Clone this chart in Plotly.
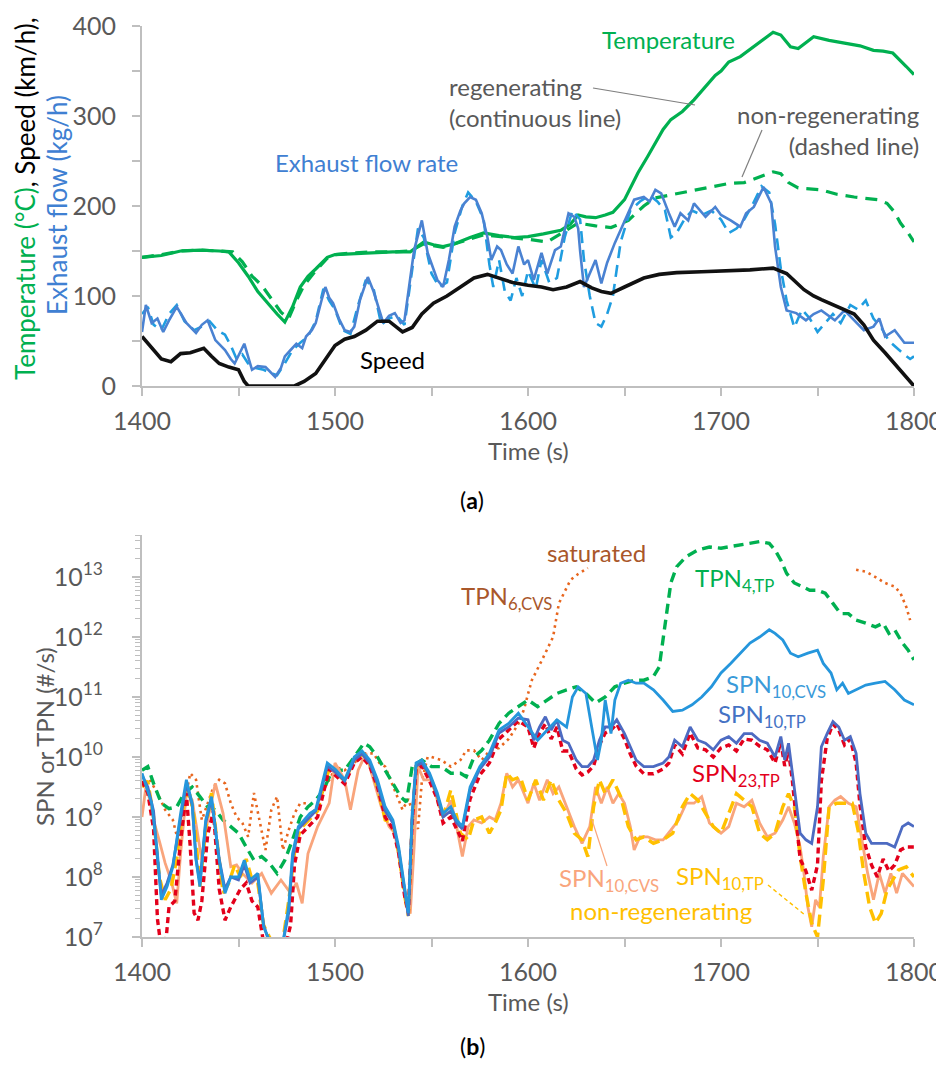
import plotly.graph_objects as go

# ---------------- (a) top panel data ----------------
t_temp_reg = [1400,1410,1420,1430,1440,1445,1450,1455,1460,1465,1470,1474,1478,1482,1486,1490,1496,1500,1510,1520,1530,1539,1546,1551,1556,1562,1570,1577,1585,1593,1600,1608,1617,1622,1626,1630,1635,1640,1644,1650,1657,1662,1666,1670,1674,1680,1686,1692,1697,1700,1704,1710,1717,1722,1727,1731,1736,1740,1744,1748,1756,1765,1772,1779,1784,1789,1793,1796,1800]
temp_reg = [143,145,150,151,150,149,137,122,105,92,80,71,88,110,122,130,143,146,147,148,149,149,160,157,155,158,165,170,167,165,166,169,173,180,190,188,187,190,193,207,237,255,270,285,296,305,318,333,345,350,360,366,377,385,393,390,377,375,382,388,384,381,378,373,372,370,362,355,346]

t_temp_non = [1400,1410,1420,1430,1440,1447,1452,1457,1462,1467,1472,1476,1480,1484,1490,1496,1500,1510,1520,1530,1539,1546,1556,1565,1577,1590,1600,1610,1618,1626,1635,1643,1652,1660,1666,1678,1695,1704,1712,1720,1727,1731,1735,1740,1752,1760,1769,1781,1786,1790,1793,1797,1800]
temp_non = [143,146,150,151,150,149,138,122,112,97,82,75,95,112,128,142,146,148,149,149,150,158,154,160,168,165,163,160,170,181,178,176,184,200,209,214,221,225,226,232,238,236,226,220,218,213,210,207,203,193,181,170,160]

t_speed = [1400,1405,1410,1415,1420,1425,1432,1436,1440,1445,1450,1453,1455,1479,1484,1490,1495,1500,1505,1510,1516,1522,1528,1535,1540,1545,1551,1558,1565,1572,1579,1585,1592,1600,1607,1613,1620,1627,1633,1638,1643,1650,1660,1668,1677,1690,1703,1715,1727,1734,1743,1748,1752,1764,1769,1774,1779,1785,1790,1795,1800]
speed = [55,42,30,27,36,37,42,33,25,21,18,5,0,0,5,14,30,45,52,55,62,72,72,60,65,80,92,100,110,120,124,120,115,112,110,107,110,116,109,105,103,110,120,124,126,127,128,129,131,125,107,100,96,84,80,68,51,37,25,13,0]

t_exh_reg = [1400,1402,1405,1408,1411,1414,1418,1423,1428,1431,1434,1438,1443,1446,1448,1451,1453,1457,1460,1464,1467,1469,1472,1474,1477,1480,1483,1485,1488,1490,1493,1495,1497,1499,1502,1505,1508,1510,1513,1517,1520,1522,1525,1528,1531,1534,1536,1539,1541,1545,1548,1551,1553,1556,1559,1562,1565,1567,1570,1573,1576,1579,1581,1584,1586,1589,1592,1595,1598,1600,1603,1607,1610,1614,1617,1621,1624,1626,1627,1629,1632,1635,1638,1641,1645,1650,1655,1660,1663,1666,1669,1673,1676,1679,1683,1686,1689,1692,1697,1700,1705,1710,1713,1717,1722,1726,1728,1731,1734,1739,1744,1748,1752,1756,1759,1764,1769,1774,1779,1782,1785,1790,1795,1800]
exh_reg = [60,90,70,75,60,73,88,70,59,68,73,51,40,30,25,38,47,18,22,21,15,10,20,33,40,47,42,55,62,70,95,110,98,92,75,62,60,66,96,121,105,92,70,78,81,70,73,120,151,184,148,130,118,110,140,177,195,203,210,207,192,165,140,155,151,135,125,155,135,140,118,148,125,151,155,192,188,175,150,110,125,140,114,137,159,184,207,210,205,218,214,192,177,192,184,203,195,188,199,190,184,177,192,199,221,203,155,110,84,81,73,80,84,78,73,84,73,62,66,75,55,62,48,48]

t_exh_non = [1400,1403,1406,1410,1414,1418,1422,1427,1431,1435,1439,1443,1446,1449,1452,1455,1459,1463,1467,1470,1474,1478,1482,1486,1490,1494,1497,1500,1504,1508,1512,1516,1520,1524,1528,1532,1536,1539,1543,1546,1550,1554,1558,1562,1566,1569,1573,1577,1580,1582,1585,1588,1591,1594,1597,1600,1604,1607,1611,1615,1619,1623,1627,1629,1632,1635,1638,1641,1644,1648,1653,1658,1663,1667,1671,1674,1677,1681,1685,1690,1695,1700,1704,1708,1712,1716,1721,1725,1728,1731,1734,1738,1742,1746,1750,1754,1758,1762,1767,1771,1775,1779,1783,1787,1791,1795,1798,1800]
exh_non = [80,88,68,62,80,90,72,62,66,72,62,57,45,30,35,25,20,18,14,12,25,40,48,55,72,108,95,85,62,58,90,118,108,68,75,78,68,115,175,165,125,110,115,170,200,215,205,185,135,110,140,105,95,120,100,128,108,140,115,120,165,195,185,140,100,70,66,80,100,160,195,205,212,205,195,165,170,185,195,190,195,185,170,175,185,200,222,215,180,130,95,65,85,75,60,70,80,70,90,85,95,75,65,50,42,35,30,33]

# ---------------- (b) bottom panel data (log10 of #/s) ----------------
t_spn10cvs_reg = [1400,1403,1405,1408,1410,1413,1416,1420,1423,1426,1428,1430,1433,1436,1440,1443,1446,1450,1453,1456,1460,1463,1466,1470,1473,1476,1478,1481,1484,1487,1490,1493,1496,1500,1505,1510,1514,1518,1522,1526,1530,1533,1536,1538,1540,1542,1545,1549,1553,1556,1560,1563,1566,1570,1575,1580,1585,1590,1595,1600,1605,1610,1615,1620,1623,1626,1630,1633,1636,1638,1640,1643,1645,1648,1652,1656,1660,1665,1670,1675,1680,1685,1690,1695,1700,1705,1710,1715,1720,1725,1728,1732,1736,1740,1745,1750,1753,1757,1760,1763,1766,1770,1775,1780,1785,1790,1795,1800]
spn10cvs_reg_log = [9.73,9.45,9.23,8.39,7.62,7.84,8.17,9.06,9.62,9.23,8.28,7.84,8.95,9.34,8.28,7.73,8.0,8.0,8.28,7.95,8.06,7.17,6.95,6.8,6.9,7.5,8.39,8.84,8.95,9.06,9.12,9.5,9.9,9.8,9.62,10.0,10.1,9.95,9.62,9.17,8.95,8.5,7.84,7.4,9.06,9.9,9.95,9.73,9.4,9.06,9.17,8.95,8.84,9.5,9.84,10.06,10.45,10.56,10.73,10.5,10.28,10.45,10.62,10.5,11.0,11.17,11.06,10.5,9.95,10.28,10.95,10.39,10.95,11.23,11.28,11.23,11.23,11.12,10.95,10.76,10.78,10.87,11.0,11.17,11.4,11.56,11.73,11.9,12.0,12.12,12.06,11.95,11.73,11.67,11.73,11.78,11.56,11.4,11.12,11.23,11.06,11.12,11.2,11.23,11.26,11.12,10.95,10.87]

t_spn10tp_reg = [1400,1403,1406,1408,1410,1413,1416,1420,1423,1426,1428,1430,1433,1436,1440,1443,1446,1450,1453,1456,1460,1463,1466,1470,1473,1476,1478,1481,1484,1487,1490,1493,1496,1500,1505,1510,1514,1518,1522,1526,1530,1533,1536,1538,1540,1542,1545,1549,1553,1556,1560,1563,1566,1570,1575,1580,1585,1590,1595,1600,1603,1606,1609,1612,1615,1618,1621,1625,1628,1631,1634,1637,1640,1643,1646,1650,1653,1656,1660,1665,1670,1673,1676,1680,1684,1688,1692,1696,1700,1704,1708,1712,1716,1720,1724,1728,1731,1733,1735,1737,1739,1741,1744,1747,1750,1752,1755,1758,1761,1764,1767,1770,1772,1775,1778,1782,1786,1790,1794,1797,1800]
spn10tp_reg_log = [9.7,9.5,9.1,8.3,7.7,7.9,8.2,9.0,9.55,9.2,8.3,7.9,8.9,9.3,8.3,7.8,8.0,7.95,8.2,7.9,8.0,7.2,6.9,6.8,6.9,7.4,8.3,8.8,8.9,9.0,9.1,9.45,9.85,9.75,9.6,9.95,10.05,9.9,9.55,9.1,8.9,8.45,7.8,7.35,9.0,9.85,9.9,9.7,9.35,9.0,9.1,8.9,8.8,9.45,9.8,10.0,10.4,10.5,10.65,10.62,10.28,10.5,10.67,10.45,10.62,10.28,10.23,9.95,9.84,9.84,9.95,10.28,10.5,10.5,10.62,10.39,10.17,9.95,9.84,9.84,9.9,10.0,10.28,10.17,10.5,10.28,10.23,10.12,10.28,10.34,10.23,10.39,10.39,10.28,10.23,10.0,10.34,9.95,10.23,9.73,9.17,8.73,8.62,8.56,9.17,10.17,10.39,10.59,10.5,10.28,10.34,10.06,9.39,8.73,8.56,8.56,8.56,8.5,8.84,8.9,8.84]

t_spn23tp_reg = [1400,1403,1406,1408,1410,1412,1414,1417,1420,1423,1425,1427,1429,1431,1434,1437,1440,1443,1446,1448,1451,1454,1457,1460,1463,1466,1474,1477,1479,1482,1485,1488,1491,1494,1497,1500,1505,1510,1514,1518,1522,1526,1530,1533,1536,1538,1540,1542,1545,1549,1553,1556,1560,1563,1566,1570,1575,1580,1585,1590,1595,1600,1603,1606,1609,1612,1615,1618,1621,1625,1628,1631,1634,1637,1640,1643,1646,1650,1653,1656,1660,1665,1670,1673,1676,1680,1684,1688,1692,1696,1700,1704,1708,1712,1716,1720,1724,1728,1731,1733,1735,1737,1739,1741,1744,1747,1750,1752,1755,1758,1761,1764,1767,1770,1772,1775,1778,1781,1784,1787,1790,1793,1796,1800]
spn23tp_reg_log = [9.6,9.4,8.8,7.3,6.8,6.8,7.5,7.6,8.6,9.4,8.5,7.4,7.28,7.6,8.7,9.1,7.8,7.28,7.5,7.62,7.8,7.9,7.6,7.5,6.9,6.8,6.8,7.2,8.2,8.7,8.8,8.9,9.0,9.4,9.8,9.7,9.55,9.9,10.0,9.85,9.5,9.0,8.8,8.4,7.7,7.4,8.9,9.8,9.85,9.6,9.3,8.9,9.0,8.8,8.6,9.3,9.7,9.9,10.3,10.45,10.6,10.5,10.15,10.4,10.55,10.3,10.5,10.1,10.1,9.8,9.7,9.75,9.85,10.2,10.4,10.45,10.55,10.3,10.05,9.85,9.72,9.72,9.8,9.9,10.2,10.05,10.4,10.15,10.12,10.0,10.15,10.2,10.1,10.3,10.28,10.18,10.12,9.9,10.25,9.85,10.1,9.6,8.9,8.3,8.1,7.78,8.2,9.6,10.3,10.55,10.45,10.2,10.3,9.9,9.2,8.5,8.2,8.0,8.3,8.1,8.2,8.45,8.5,8.5]

t_spn10cvs_non = [1400,1402,1404,1406,1409,1412,1415,1418,1420,1423,1426,1428,1431,1434,1438,1442,1446,1449,1452,1457,1462,1467,1472,1477,1480,1483,1486,1491,1497,1500,1505,1508,1512,1516,1520,1524,1528,1531,1534,1537,1539,1541,1543,1546,1550,1554,1557,1560,1563,1566,1569,1572,1576,1580,1583,1586,1589,1592,1595,1598,1600,1603,1606,1610,1613,1616,1620,1624,1628,1632,1635,1638,1641,1644,1647,1650,1653,1655,1658,1662,1666,1670,1674,1678,1682,1686,1690,1694,1698,1700,1704,1708,1712,1716,1720,1724,1728,1732,1735,1738,1741,1743,1745,1747,1749,1751,1753,1756,1759,1762,1766,1770,1773,1776,1779,1782,1785,1788,1791,1794,1797,1800]
spn10cvs_non_log = [9.0,9.5,9.3,8.95,8.6,8.23,7.95,7.56,8.39,9.4,9.28,8.9,8.28,8.95,9.56,9.06,8.17,8.2,8.06,7.9,8.06,7.73,7.95,7.73,7.9,7.56,8.39,8.84,9.23,9.9,9.62,9.12,9.78,10.06,9.62,9.17,8.84,8.73,8.17,7.62,7.39,8.5,9.84,9.62,9.62,9.17,9.06,9.28,8.84,8.34,8.84,8.95,8.9,9.0,8.95,9.23,9.73,9.5,9.62,9.39,9.23,9.56,9.28,9.62,9.39,9.5,9.17,8.84,8.56,8.84,9.5,9.23,9.5,9.23,9.39,9.23,8.84,8.45,8.67,8.67,8.62,8.62,8.78,8.95,9.23,9.23,9.34,8.9,8.78,8.73,8.84,9.23,9.17,9.28,8.9,8.67,8.73,8.95,9.17,8.9,8.5,8.06,7.5,7.17,7.62,7.5,8.34,9.17,9.28,9.34,9.23,9.17,8.62,8.06,7.62,8.06,7.73,8.06,7.73,8.06,7.95,7.84]

t_spn10tp_non = [1400,1403,1406,1409,1412,1415,1418,1421,1424,1427,1430,1433,1436,1439,1442,1445,1448,1451,1454,1457,1460,1463,1466,1470,1473,1476,1479,1482,1485,1488,1491,1494,1497,1500,1505,1510,1514,1518,1522,1526,1530,1533,1536,1538,1540,1542,1545,1549,1553,1556,1560,1565,1569,1572,1576,1580,1583,1586,1589,1592,1596,1600,1604,1608,1612,1616,1620,1624,1628,1631,1634,1637,1640,1644,1648,1652,1656,1660,1665,1670,1675,1680,1684,1688,1692,1696,1700,1704,1708,1712,1716,1720,1724,1728,1732,1735,1738,1741,1744,1747,1750,1753,1756,1760,1764,1768,1771,1774,1777,1780,1783,1786,1789,1792,1796,1800]
spn10tp_non_log = [9.5,9.6,9.0,8.0,7.62,7.8,8.3,9.1,9.5,9.0,7.84,8.8,9.4,8.6,7.73,7.9,8.2,8.0,8.3,7.95,7.9,7.2,7.0,6.8,6.95,7.6,8.4,8.8,8.9,9.0,9.1,9.5,9.8,9.75,9.6,9.95,10.05,9.9,9.5,8.95,8.9,8.4,7.7,7.35,8.9,9.85,9.9,9.7,9.35,9.0,9.45,8.73,8.62,8.95,9.0,8.73,8.9,9.12,9.73,9.62,9.67,9.28,9.62,9.28,9.62,9.28,9.06,8.73,8.62,8.34,9.17,9.62,9.39,9.62,9.34,8.84,8.62,8.67,8.56,8.62,8.73,9.17,9.39,9.28,9.06,8.84,8.73,9.06,9.39,9.28,9.17,8.73,8.62,8.73,9.17,9.39,9.17,8.34,7.73,7.23,7.0,7.95,9.17,9.23,9.23,9.23,8.78,8.06,7.5,7.23,7.39,7.78,7.95,8.12,8.17,8.0]

t_tpn4tp = [1400,1403,1406,1410,1414,1418,1422,1426,1430,1434,1438,1442,1446,1450,1454,1458,1462,1466,1470,1474,1478,1482,1486,1490,1494,1498,1500,1505,1510,1515,1518,1522,1526,1530,1534,1537,1540,1545,1550,1555,1560,1565,1568,1572,1576,1580,1585,1590,1595,1600,1605,1610,1615,1620,1625,1630,1635,1640,1645,1650,1655,1660,1665,1668,1670,1672,1674,1677,1682,1688,1694,1700,1710,1720,1725,1728,1731,1734,1738,1742,1746,1750,1754,1758,1762,1766,1770,1775,1780,1784,1787,1790,1794,1797,1800]
tpn4tp_log = [9.78,9.84,9.56,9.23,9.14,9.17,9.4,9.5,9.34,9.17,9.12,8.95,8.84,8.73,8.5,8.28,8.34,8.23,8.06,8.28,8.62,9.0,9.17,9.28,9.45,9.73,9.78,9.78,10.0,10.23,10.17,10.0,9.78,9.56,9.34,9.25,9.84,9.95,9.84,9.84,9.73,9.73,9.67,10.0,10.11,10.28,10.56,10.73,10.84,10.95,10.84,10.95,11.06,11.12,11.17,11.06,10.9,11.0,11.17,11.23,11.28,11.28,11.34,11.5,11.95,12.5,12.9,13.17,13.34,13.45,13.5,13.48,13.53,13.59,13.56,13.45,13.28,13.06,12.9,12.84,12.78,12.78,12.73,12.56,12.39,12.39,12.28,12.23,12.17,12.23,12.06,12.12,11.9,11.78,11.62]

t_tpn6cvs = [1404,1408,1412,1416,1419,1422,1425,1428,1431,1434,1437,1440,1443,1446,1449,1452,1455,1458,1461,1464,1467,1470,1473,1476,1479,1482,1486,1490,1494,1498,1500,1505,1510,1515,1520,1523,1526,1530,1533,1535,1538,1541,1543,1545,1548,1550,1555,1560,1565,1568,1572,1576,1580,1585,1590,1595,1598,1600,1602,1607,1613,1616,1622,1626,1631,
             1650,
             1770,1775,1780,1785,1790,1793,1796,1798]
tpn6cvs_log = [9.62,9.4,9.12,8.95,8.56,9.23,9.73,9.62,8.95,9.23,9.5,9.62,9.56,9.23,9.0,8.9,8.67,9.4,8.95,8.45,9.12,9.34,8.45,8.78,9.06,9.23,9.23,9.06,9.45,9.67,9.84,9.78,9.9,10.06,10.06,9.9,9.84,9.5,9.28,9.12,9.3,9.0,8.8,9.6,10.0,10.0,9.95,9.84,9.95,10.11,10.11,9.95,10.1,10.15,10.3,10.55,10.8,11.05,11.28,11.6,12.0,12.56,12.95,13.05,13.15,
               None,
               13.12,13.09,13.0,12.9,12.84,12.73,12.5,12.28]

# ---------------- styles ----------------
FONT = "Lato, 'Open Sans', sans-serif"
GREY = "#595959"
AXIS = "#bfbfbf"
GREEN = "#00b050"
W, H = 944, 1068
OFF = 8          # the page body margin shifts the figure by 8 px
TICK_SIZE = 25
LABEL_SIZE = 24


def px(x):
    return (x - OFF) / W


def py(y):
    return 1 - (y - OFF) / H


def pow10(vals):
    return [None if v is None else 10 ** v for v in vals]


fig = go.Figure()

# top panel
fig.add_trace(go.Scatter(x=t_temp_reg, y=temp_reg, mode="lines", line=dict(color=GREEN, width=3.2), xaxis="x", yaxis="y"))
fig.add_trace(go.Scatter(x=t_temp_non, y=temp_non, mode="lines", line=dict(color=GREEN, width=3.2, dash="12px,8px"), xaxis="x", yaxis="y"))
fig.add_trace(go.Scatter(x=t_exh_non, y=exh_non, mode="lines", line=dict(color="#1f9de0", width=2.6, dash="12px,7px"), xaxis="x", yaxis="y"))
fig.add_trace(go.Scatter(x=t_exh_reg, y=exh_reg, mode="lines", line=dict(color="#4a82d2", width=2.6), xaxis="x", yaxis="y"))
fig.add_trace(go.Scatter(x=t_speed, y=speed, mode="lines", line=dict(color="#111111", width=3.6), xaxis="x", yaxis="y"))

# bottom panel
fig.add_trace(go.Scatter(x=t_tpn6cvs, y=pow10(tpn6cvs_log), mode="lines", connectgaps=False, line=dict(color="#e8661e", width=2.6, dash="2.5px,4px"), xaxis="x2", yaxis="y2"))
fig.add_trace(go.Scatter(x=t_tpn4tp, y=pow10(tpn4tp_log), mode="lines", line=dict(color=GREEN, width=3.4, dash="10px,6px"), xaxis="x2", yaxis="y2"))
fig.add_trace(go.Scatter(x=t_spn10cvs_non, y=pow10(spn10cvs_non_log), mode="lines", line=dict(color="#f9a57c", width=2.8), xaxis="x2", yaxis="y2"))
fig.add_trace(go.Scatter(x=t_spn10tp_non, y=pow10(spn10tp_non_log), mode="lines", line=dict(color="#ffc000", width=3.4, dash="12px,6px"), xaxis="x2", yaxis="y2"))
fig.add_trace(go.Scatter(x=t_spn23tp_reg, y=pow10(spn23tp_reg_log), mode="lines", line=dict(color="#e3001b", width=3.4, dash="6px,4px"), xaxis="x2", yaxis="y2"))
fig.add_trace(go.Scatter(x=t_spn10tp_reg, y=pow10(spn10tp_reg_log), mode="lines", line=dict(color="#4d6bc2", width=2.8), xaxis="x2", yaxis="y2"))
fig.add_trace(go.Scatter(x=t_spn10cvs_reg, y=pow10(spn10cvs_reg_log), mode="lines", line=dict(color="#2596dc", width=2.8), xaxis="x2", yaxis="y2"))

x_ticks = [1400, 1500, 1600, 1700, 1800]
y_ticks_a = [0, 100, 200, 300, 400]
y_tickvals_b = [1e7, 1e8, 1e9, 1e10, 1e11, 1e12, 1e13]
y_ticktext_b = ["10<sup>7</sup>", "10<sup>8</sup>", "10<sup>9</sup>", "10<sup>10</sup>",
                "10<sup>11</sup>", "10<sup>12</sup>", "10<sup>13</sup>"]
minor_log = [k * 10 ** e for e in range(7, 14) for k in range(2, 10) if k * 10 ** e <= 5e13]

common_x = dict(range=[1400, 1800], tickmode="array", tickvals=x_ticks, showline=True, linecolor=AXIS,
                linewidth=2, ticks="outside", tickcolor=AXIS, tickwidth=2, ticklen=8, automargin=False,
                minor=dict(tickmode="array", tickvals=[1450, 1550, 1650, 1750], ticks="outside", ticklen=8,
                           tickcolor=AXIS, tickwidth=2),
                tickfont=dict(family=FONT, size=TICK_SIZE, color=GREY), showgrid=False, zeroline=False,
                ticklabelstandoff=4)

fig.update_layout(
    width=W, height=H, margin=dict(l=0, r=0, t=0, b=0, pad=0, autoexpand=False),
    paper_bgcolor="white", plot_bgcolor="white", showlegend=False,
    font=dict(family=FONT, color=GREY),
    xaxis=dict(domain=[px(142), px(914)], anchor="y", **common_x),
    yaxis=dict(domain=[py(386), py(26)], anchor="x", range=[0, 400], tickmode="array", tickvals=y_ticks_a,
               showline=True, linecolor=AXIS, linewidth=2, ticks="outside", tickcolor=AXIS, tickwidth=2,
               ticklen=8, automargin=False,
               minor=dict(tickmode="array", tickvals=[50, 150, 250, 350], ticks="outside",
                          ticklen=8, tickcolor=AXIS, tickwidth=2),
               tickfont=dict(family=FONT, size=TICK_SIZE, color=GREY), showgrid=False, zeroline=False,
               ticklabelstandoff=11),
    xaxis2=dict(domain=[px(142), px(914)], anchor="y2", **common_x),
    yaxis2=dict(domain=[py(937), py(535)], anchor="x2", type="log", range=[7, 13.7], tickmode="array",
                tickvals=y_tickvals_b, ticktext=y_ticktext_b, showline=True, linecolor=AXIS, linewidth=2,
                ticks="outside", tickcolor=AXIS, tickwidth=2, ticklen=8, automargin=False,
                minor=dict(tickmode="array", tickvals=minor_log, ticks="outside", ticklen=5,
                           tickcolor=AXIS, tickwidth=1),
                tickfont=dict(family=FONT, size=TICK_SIZE, color=GREY), showgrid=False, zeroline=False,
                ticklabelstandoff=24),
)

ann = []


def add_text(text, x, y, color, size=LABEL_SIZE, xanchor="center", angle=0, align="center"):
    ann.append(dict(text=text, x=px(x), y=py(y), xref="paper", yref="paper", showarrow=False,
                    xanchor=xanchor, yanchor="middle", textangle=angle, align=align,
                    font=dict(family=FONT, size=size, color=color)))


# axis titles
add_text("<span style='color:#00b050'>Temperature (°C)</span><span style='color:#000000'>, Speed (km/h),</span>",
         25, 199, GREEN, size=26, angle=-90)
add_text("Exhaust flow (kg/h)", 57, 205, "#3f80d2", size=26, angle=-90)
add_text("Time (s)", 528, 450, GREY)
add_text("SPN or TPN (#/s)", 45, 737, GREY, size=24, angle=-90)
add_text("Time (s)", 528, 1001, GREY)
add_text("(<b>a</b>)", 472, 500, "#000000", size=23)
add_text("(<b>b</b>)", 472, 1046, "#000000", size=23)

# top labels
add_text("Temperature", 668, 40, GREEN)
add_text("regenerating<br>(continuous line)", 447, 102, GREY, xanchor="left", align="left")
add_text("non-regenerating<br>(dashed line)", 921, 130, GREY, xanchor="right", align="right")
add_text("Exhaust flow rate", 366, 162, "#3f80d2")
add_text("Speed", 392, 360, "#000000")

# bottom labels
add_text("saturated", 596, 552, "#a9572a")
add_text("TPN<sub>6,CVS</sub>", 506, 597, "#a9572a")
add_text("TPN<sub>4,TP</sub>", 734, 579, GREEN)
add_text("SPN<sub>10,CVS</sub>", 776, 685, "#3a9ad9")
add_text("SPN<sub>10,TP</sub>", 762, 715, "#4472c4")
add_text("SPN<sub>23,TP</sub>", 736, 774, "#e3001b")
add_text("SPN<sub>10,CVS</sub>", 609, 879, "#f9a57c")
add_text("SPN<sub>10,TP</sub>", 720, 877, "#ffc000")
add_text("non-regenerating", 661, 910, "#ffc000")

fig.update_layout(annotations=ann)

shapes = [
    dict(type="line", xref="paper", yref="paper", x0=px(593), y0=py(88), x1=px(695), y1=py(105),
         line=dict(color="#7f7f7f", width=1.2)),
    dict(type="line", xref="paper", yref="paper", x0=px(762), y0=py(130), x1=px(742), y1=py(177),
         line=dict(color="#7f7f7f", width=1.2)),
    dict(type="line", xref="paper", yref="paper", x0=px(607), y0=py(866), x1=px(592), y1=py(820),
         line=dict(color="#f9a57c", width=1.2)),
    dict(type="line", xref="paper", yref="paper", x0=px(768), y0=py(885), x1=px(805), y1=py(915),
         line=dict(color="#ffc000", width=1.4, dash="4px,3px")),
]
fig.update_layout(shapes=shapes)

fig.write_html("out.html")
